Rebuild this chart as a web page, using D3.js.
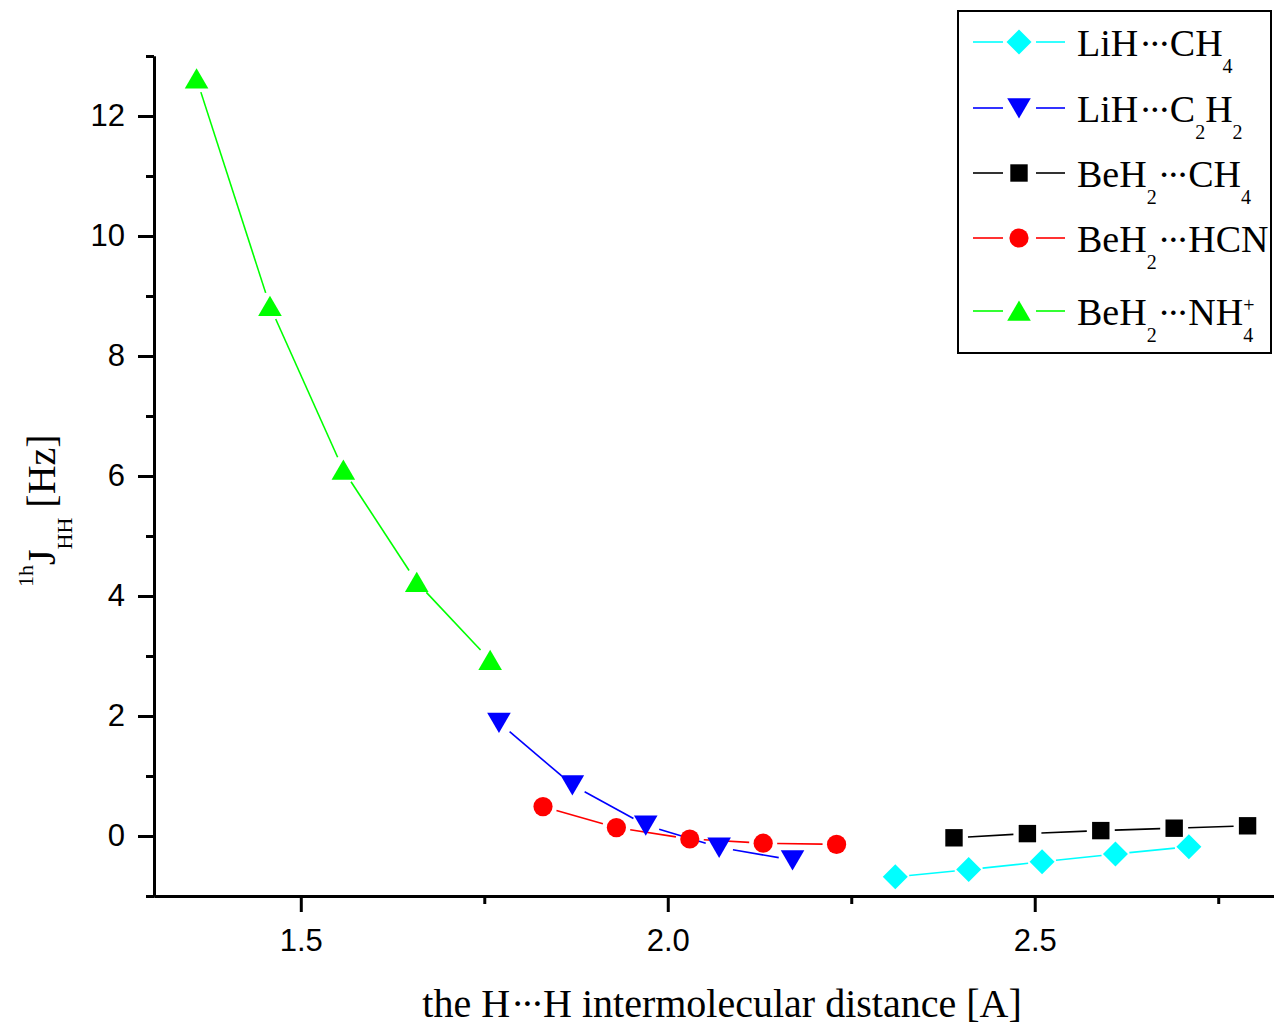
<!DOCTYPE html>
<html>
<head>
<meta charset="utf-8">
<script src="https://cdn.jsdelivr.net/npm/d3@7"></script>
<style>
  html, body { margin: 0; padding: 0; background: #fff; }
  svg { display: block; }
</style>
</head>
<body>
<svg id="chart" width="1274" height="1026"></svg>
<script>
// H···H distance (Å) and 1hJ(HH) coupling constants (Hz) per complex
const xLiH_CH4   = [2.31, 2.41, 2.51, 2.61, 2.71];
const yLiH_CH4   = [-0.68, -0.56, -0.43, -0.30, -0.18];
const xLiH_C2H2  = [1.77, 1.87, 1.97, 2.07, 2.17];
const yLiH_C2H2  = [1.89, 0.85, 0.18, -0.19, -0.40];
const xBeH2_CH4  = [2.39, 2.49, 2.59, 2.69, 2.79];
const yBeH2_CH4  = [-0.03, 0.04, 0.09, 0.13, 0.17];
const xBeH2_HCN  = [1.83, 1.93, 2.03, 2.13, 2.23];
const yBeH2_HCN  = [0.49, 0.14, -0.05, -0.12, -0.14];
const xBeH2_NH4  = [1.358, 1.458, 1.558, 1.658, 1.758];
const yBeH2_NH4  = [12.62, 8.83, 6.10, 4.23, 2.93];

// Axis ticks
const xMajorTicks = [1.5, 2.0, 2.5];
const xMinorTicks = [1.75, 2.25, 2.75];
const yMajorTicks = [0, 2, 4, 6, 8, 10, 12];
const yMinorTicks = [-1, 1, 3, 5, 7, 9, 11, 13];
const xDomain = [1.3, 2.826];
const yDomain = [-1, 13];

// Legend labels: pieces of [text, role]; n = normal, dots = tight ellipsis,
// sub = subscript, stack = superscript placed over the preceding subscript
const seriesLabels = [
  [["LiH", "n"], ["···", "dots"], ["CH", "n"], ["4", "sub"]],
  [["LiH", "n"], ["···", "dots"], ["C", "n"], ["2", "sub"], ["H", "n"], ["2", "sub"]],
  [["BeH", "n"], ["2", "sub"], ["···", "dots"], ["CH", "n"], ["4", "sub"]],
  [["BeH", "n"], ["2", "sub"], ["···", "dots"], ["HCN", "n"]],
  [["BeH", "n"], ["2", "sub"], ["···", "dots"], ["NH", "n"], ["4", "sub"], ["+", "stack"]]
];

const series = [
  { xs: xLiH_CH4,  ys: yLiH_CH4,  color: "#00FFFF", shape: "diamond",  label: seriesLabels[0] },
  { xs: xLiH_C2H2, ys: yLiH_C2H2, color: "#0000FF", shape: "triDown",  label: seriesLabels[1] },
  { xs: xBeH2_CH4, ys: yBeH2_CH4, color: "#000000", shape: "square",   label: seriesLabels[2] },
  { xs: xBeH2_HCN, ys: yBeH2_HCN, color: "#FF0000", shape: "circle",   label: seriesLabels[3] },
  { xs: xBeH2_NH4, ys: yBeH2_NH4, color: "#00FF00", shape: "triUp",    label: seriesLabels[4] }
];

const svg = d3.select("#chart");
const x = d3.scaleLinear().domain(xDomain).range([154, 1274]);
const y = d3.scaleLinear().domain(yDomain).range([896, 56]);

// marker outlines centred on their bounding box
function markerPath(shape) {
  switch (shape) {
    case "diamond": return "M0,-12.5L12.5,0L0,12.5L-12.5,0Z";
    case "square":  return "M-8.7,-8.7H8.7V8.7H-8.7Z";
    case "circle":  return d3.symbol(d3.symbolCircle, Math.PI * 9.6 * 9.6)();
    case "triUp":   return "M0,-10.5L11.8,9.8L-11.8,9.8Z";
    case "triDown": return "M0,10.5L11.8,-9.8L-11.8,-9.8Z";
  }
}

// Axes
const axisFont = "'Liberation Sans', Arial, sans-serif";
function styleAxis(g) {
  g.select(".domain").attr("stroke", "#000").attr("stroke-width", 3);
  g.selectAll(".tick line").attr("stroke", "#000").attr("stroke-width", 3);
  g.selectAll(".tick text").attr("font-family", axisFont).attr("font-size", 31).attr("fill", "#000");
}

svg.append("g")
  .attr("transform", `translate(0,${y(yDomain[0])})`)
  .call(d3.axisBottom(x).tickValues(xMinorTicks).tickSize(8).tickSizeOuter(0).tickFormat(""))
  .call(styleAxis);
svg.append("g")
  .attr("transform", `translate(0,${y(yDomain[0])})`)
  .call(d3.axisBottom(x).tickValues(xMajorTicks).tickSize(16).tickSizeOuter(0).tickPadding(17).tickFormat(d3.format(".1f")))
  .call(styleAxis);
svg.append("g")
  .attr("transform", `translate(${x(xDomain[0])},0)`)
  .call(d3.axisLeft(y).tickValues(yMinorTicks).tickSize(8).tickSizeOuter(0).tickFormat(""))
  .call(styleAxis);
svg.append("g")
  .attr("transform", `translate(${x(xDomain[0])},0)`)
  .call(d3.axisLeft(y).tickValues(yMajorTicks).tickSize(16).tickSizeOuter(0).tickPadding(13).tickFormat(d3.format("d")))
  .call(styleAxis);

// Connecting lines, stopping short of each marker
const gap = 14;
const plot = svg.append("g");
series.forEach(s => {
  const pts = s.xs.map((v, i) => [x(v), y(s.ys[i])]);
  const segs = d3.pairs(pts).map(([a, b]) => {
    const dx = b[0] - a[0], dy = b[1] - a[1];
    const len = Math.hypot(dx, dy);
    const ux = dx / len, uy = dy / len;
    return len > 2 * gap ? [[a[0] + ux * gap, a[1] + uy * gap], [b[0] - ux * gap, b[1] - uy * gap]] : null;
  }).filter(Boolean);
  plot.selectAll(null).data(segs).enter().append("line")
    .attr("x1", d => d[0][0]).attr("y1", d => d[0][1])
    .attr("x2", d => d[1][0]).attr("y2", d => d[1][1])
    .attr("stroke", s.color).attr("stroke-width", 1.6);
});
series.forEach(s => {
  plot.selectAll(null).data(s.xs.map((v, i) => [v, s.ys[i]])).enter().append("path")
    .attr("d", markerPath(s.shape))
    .attr("transform", d => `translate(${x(d[0])},${y(d[1])})`)
    .attr("fill", s.color);
});

// Axis titles
const serif = "'Liberation Serif', 'Times New Roman', serif";
const xTitle = svg.append("text")
  .attr("x", 722).attr("y", 1017)
  .attr("text-anchor", "middle")
  .attr("font-family", serif).attr("font-size", 40).attr("fill", "#000");
xTitle.append("tspan").text("the H");
xTitle.append("tspan").attr("dx", 1).attr("letter-spacing", -3.5).text("···");
xTitle.append("tspan").attr("dx", 2.5).text("H intermolecular distance [A]");

const yTitle = svg.append("text")
  .attr("transform", "translate(55,587) rotate(-90)")
  .attr("font-family", serif).attr("fill", "#000");
yTitle.append("tspan").attr("font-size", 22).attr("dy", -22).text("1h");
yTitle.append("tspan").attr("font-size", 40).attr("dy", 22).text("J");
yTitle.append("tspan").attr("font-size", 22).attr("dy", 17).text("HH");
yTitle.append("tspan").attr("font-size", 40).attr("dy", -17).text(" [Hz]");

// Legend
const legend = svg.append("g");
legend.append("rect")
  .attr("x", 958).attr("y", 11).attr("width", 313).attr("height", 342)
  .attr("fill", "#fff").attr("stroke", "#000").attr("stroke-width", 2);
const rowBase = [56, 122, 187, 252, 325];
const legendSize = 38;
series.forEach((s, i) => {
  const by = rowBase[i], my = by - 14;
  legend.append("line").attr("x1", 973).attr("x2", 1003).attr("y1", my).attr("y2", my)
    .attr("stroke", s.color).attr("stroke-width", 1.6);
  legend.append("line").attr("x1", 1036).attr("x2", 1065).attr("y1", my).attr("y2", my)
    .attr("stroke", s.color).attr("stroke-width", 1.6);
  legend.append("path").attr("d", markerPath(s.shape))
    .attr("transform", `translate(1019,${my})`).attr("fill", s.color);
  const t = legend.append("text").attr("x", 1077).attr("y", by)
    .attr("font-family", serif).attr("font-size", legendSize).attr("fill", "#000");
  let shift = 0, afterDots = false;
  s.label.forEach(([txt, role]) => {
    const ts = t.append("tspan").text(txt);
    if (role === "n") {
      ts.attr("font-size", legendSize).attr("dy", -shift); shift = 0;
      if (afterDots) ts.attr("dx", 2.5);
    } else if (role === "dots") {
      ts.attr("font-size", legendSize).attr("dy", -shift).attr("dx", 1).attr("letter-spacing", -3.3); shift = 0;
    } else if (role === "sub") {
      ts.attr("font-size", 20).attr("dy", 17 - shift); shift = 17;
    } else if (role === "stack") {
      ts.attr("font-size", 20).attr("dx", -10).attr("dy", -13 - shift); shift = -13;
    }
    afterDots = role === "dots";
  });
});
</script>
</body>
</html>
